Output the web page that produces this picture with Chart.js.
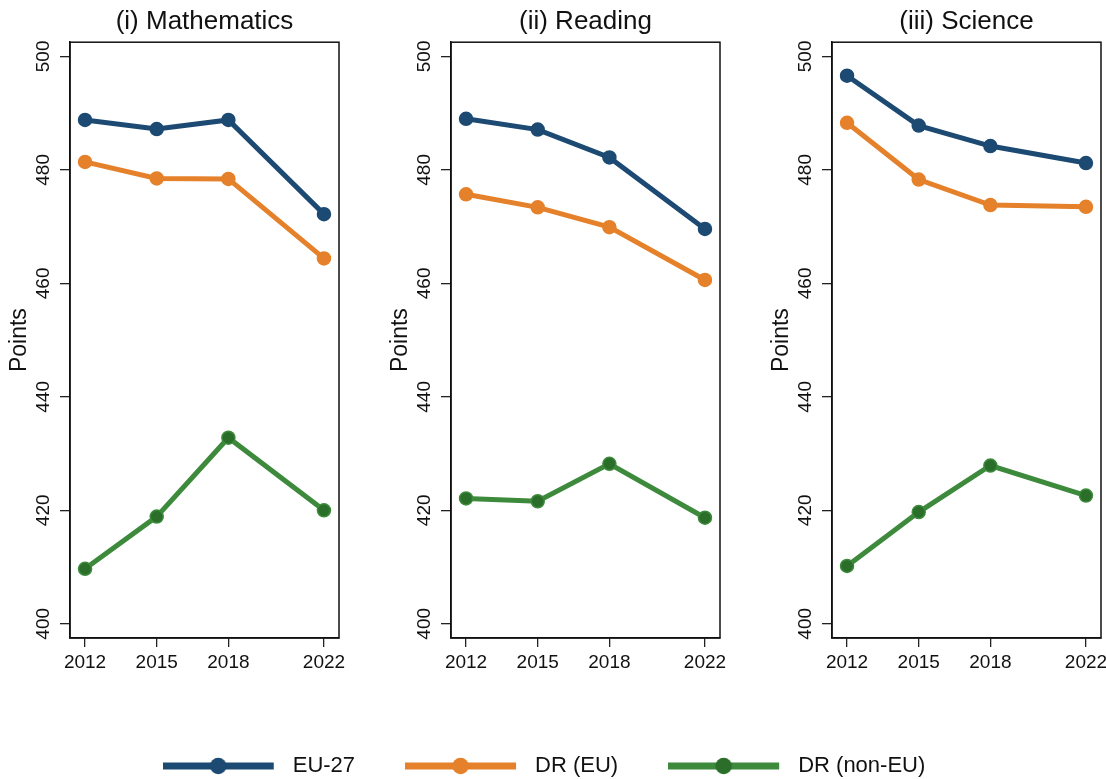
<!DOCTYPE html>
<html>
<head>
<meta charset="utf-8">
<script src="https://cdn.jsdelivr.net/npm/chart.js@4.4.1/dist/chart.umd.min.js"></script>
<style>
  body { margin: 0; background: #fff; width: 1106px; height: 779px; overflow: hidden; position: relative; }
  canvas { position: absolute; }
</style>
</head>
<body>
<canvas id="mathChart" width="347" height="690" style="left:0px;top:0px"></canvas>
<canvas id="readChart" width="347" height="690" style="left:381px;top:0px"></canvas>
<canvas id="sciChart" width="347" height="690" style="left:762px;top:0px"></canvas>
<canvas id="legendChart" width="1106" height="170" style="left:-9px;top:705px"></canvas>
<script>
// data
const years = [2012, 2015, 2018, 2022];
const yTicks = [400, 420, 440, 460, 480, 500];
const seriesNames = ['EU-27', 'DR (EU)', 'DR (non-EU)'];

const mathEU = [488.8, 487.2, 488.8, 472.2];
const mathDrEU = [481.4, 478.5, 478.4, 464.4];
const mathDrNonEU = [409.7, 418.9, 432.8, 420.0];

const readEU = [489.0, 487.1, 482.2, 469.6];
const readDrEU = [475.7, 473.4, 469.9, 460.6];
const readDrNonEU = [422.1, 421.6, 428.2, 418.7];

const sciEU = [496.6, 487.8, 484.2, 481.2];
const sciDrEU = [488.3, 478.3, 473.8, 473.5];
const sciDrNonEU = [410.2, 419.7, 427.9, 422.6];

const lineColors = ['#1c4a72', '#e5812a', '#3d8a3d'];
const dotColors = ['#1c4a72', '#e5812a', '#2a6e2a'];

const FONT = "'Liberation Sans', Arial, Helvetica, sans-serif";
Chart.defaults.font.family = FONT;
Chart.defaults.color = '#111';

// frame around the plot region
const plotBox = {
    id: 'plotBox',
    afterDraw(chart) {
        const a = chart.chartArea;
        const ctx = chart.ctx;
        ctx.save();
        ctx.strokeStyle = '#111';
        ctx.lineWidth = 1.5;
        ctx.strokeRect(a.left, a.top, a.right - a.left, a.bottom - a.top);
        ctx.restore();
    }
};

function toPoints(vals) {
    return years.map((yr, i) => ({ x: yr, y: vals[i] }));
}

function makePanel(id, title, series) {
    const ctx = document.getElementById(id);
    new Chart(ctx, {
        type: 'line',
        data: {
            datasets: series.map((vals, i) => ({
                label: seriesNames[i],
                data: toPoints(vals),
                borderColor: lineColors[i],
                backgroundColor: dotColors[i],
                pointBackgroundColor: dotColors[i],
                pointBorderColor: lineColors[i],
                pointBorderWidth: 1.5,
                borderWidth: 5,
                pointRadius: 6.5,
                tension: 0
            }))
        },
        options: {
            responsive: false,
            animation: false,
            layout: { padding: { left: 0, right: 3, top: 0, bottom: 0 } },
            plugins: {
                legend: { display: false },
                tooltip: { enabled: false },
                title: {
                    display: true,
                    fullSize: false,
                    text: title,
                    color: '#111',
                    font: { size: 26, weight: 'normal' },
                    padding: { top: 6, bottom: 5 }
                }
            },
            scales: {
                x: {
                    type: 'linear',
                    min: 2011.37,
                    max: 2022.63,
                    afterBuildTicks: s => { s.ticks = years.map(v => ({ value: v })); },
                    afterFit: s => { s.height = 52; s.paddingLeft = 0; s.paddingRight = 0; },
                    grid: { drawOnChartArea: false, drawTicks: true, tickLength: 9, color: '#222', lineWidth: 1.3 },
                    border: { color: '#111', width: 1.5 },
                    ticks: { padding: 4, maxRotation: 0, autoSkip: false, font: { size: 19 }, callback: v => String(v) }
                },
                y: {
                    min: 397.5,
                    max: 502.5,
                    afterBuildTicks: s => { s.ticks = yTicks.map(v => ({ value: v })); },
                    afterFit: s => { s.width = 70; s.paddingTop = 0; s.paddingBottom = 0; },
                    grid: { drawOnChartArea: false, drawTicks: true, tickLength: 10, color: '#222', lineWidth: 1.3 },
                    border: { color: '#111', width: 1.5 },
                    ticks: { minRotation: 90, maxRotation: 90, crossAlign: 'center', padding: 0, font: { size: 19 }, callback: v => String(v) },
                    title: { display: true, text: 'Points', font: { size: 23 }, padding: { top: 6, bottom: 0 } }
                }
            }
        },
        plugins: [plotBox]
    });
}

makePanel('mathChart', '(i) Mathematics', [mathEU, mathDrEU, mathDrNonEU]);
makePanel('readChart', '(ii) Reading', [readEU, readDrEU, readDrNonEU]);
makePanel('sciChart', '(iii) Science', [sciEU, sciDrEU, sciDrNonEU]);

// legend: line with a dot in the middle
function legendSwatch(i) {
    const c = document.createElement('canvas');
    c.width = 119;
    c.height = 22;
    const g = c.getContext('2d');
    g.strokeStyle = lineColors[i];
    g.lineWidth = 7;
    g.beginPath();
    g.moveTo(0, 11);
    g.lineTo(111, 11);
    g.stroke();
    g.fillStyle = dotColors[i];
    g.beginPath();
    g.arc(55.5, 11, 8.3, 0, Math.PI * 2);
    g.fill();
    return c;
}

new Chart(document.getElementById('legendChart'), {
    type: 'line',
    data: { datasets: seriesNames.map((n, i) => ({ label: n, data: [], borderColor: lineColors[i] })) },
    options: {
        responsive: false,
        animation: false,
        scales: { x: { display: false }, y: { display: false } },
        plugins: {
            tooltip: { enabled: false },
            legend: {
                position: 'top',
                labels: {
                    usePointStyle: true,
                    pointStyleWidth: 119,
                    padding: 50,
                    color: '#111',
                    font: { size: 22 },
                    generateLabels: () => seriesNames.map((n, i) => ({
                        text: n,
                        pointStyle: legendSwatch(i),
                        datasetIndex: i,
                        fontColor: '#111',
                        fillStyle: 'rgba(0,0,0,0)',
                        strokeStyle: 'rgba(0,0,0,0)',
                        lineWidth: 0,
                        hidden: false
                    }))
                }
            }
        }
    }
});
</script>
</body>
</html>
